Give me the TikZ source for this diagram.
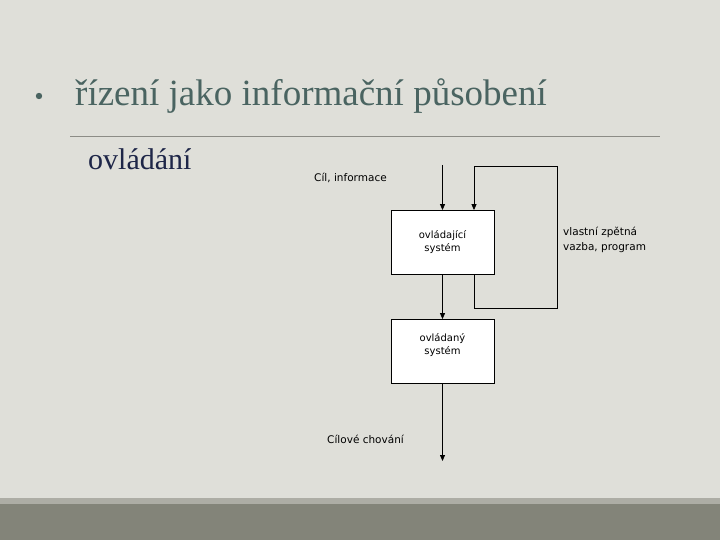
\documentclass[tikz,border=0pt]{standalone}
\usepackage{fontspec}
\usepackage{xcolor}
\usepackage{tikz}
\usetikzlibrary{arrows.meta,positioning}
\setmainfont{Liberation Serif}
\newfontfamily\diagfont{DejaVu Sans}
\definecolor{slidebg}{HTML}{DFDFD9}
\definecolor{bandgray}{HTML}{838479}
\definecolor{stripegray}{HTML}{ADADA5}
\definecolor{titlegreen}{HTML}{4A6461}
\definecolor{rulegray}{HTML}{8C8C86}
\definecolor{subnavy}{HTML}{1E2648}
\tikzset{
  sysbox/.style={draw,fill=white,line width=0.8pt,minimum width=103pt,minimum height=64pt,
    align=center,font=\diagfont\fontsize{10}{13}\selectfont,inner sep=0pt},
  flow/.style={-{Triangle[width=5pt,length=6pt]},line width=0.8pt},
  smalllabel/.style={font=\diagfont\fontsize{10.5}{14.5}\selectfont,align=left,inner sep=0pt}
}
\begin{document}
\begin{tikzpicture}[x=1pt,y=-1pt]
  \useasboundingbox (0,0) rectangle (720,540);
  \fill[slidebg] (0,0) rectangle (720,540);
  \fill[stripegray] (0,498) rectangle (720,504);
  \fill[bandgray] (0,504) rectangle (720,540);
  % heading
  \fill[titlegreen] (39,96) circle (3.2pt);
  \node[anchor=base west,inner sep=0pt,text=titlegreen,font=\fontsize{37}{40}\selectfont] (title) at (75,106) {řízení jako informační působení};
  \draw[rulegray,line width=1pt] (70,137) -- (660,137);
  \node[anchor=base west,inner sep=0pt,text=subnavy,font=\fontsize{30}{34}\selectfont] (sub) at (88,170) {ovládání};
  % blocks
  \node[sysbox] (ctrl) at (442.5,242.5) {ovládající\\systém};
  \node[sysbox] (plant) at (442.5,351.5) {ovládaný\\systém\\[2pt]};
  \coordinate (in) at (442.5,165);
  \coordinate (out) at (442.5,461);
  \coordinate (fbL) at (474,166);
  \coordinate (fbBR) at (557,308);
  \draw[flow] (in) -- (in |- ctrl.north);
  \draw[flow] (ctrl) -- (plant);
  \draw[flow] (plant) -- (out);
  \draw[flow] (ctrl.south -| fbL) |- (fbBR) |- (fbL) -- (ctrl.north -| fbL);
  % labels
  \node[smalllabel,anchor=base west] (goal) at (314,182) {Cíl, informace};
  \node[smalllabel,anchor=west] (fbtext) at (563,240) {vlastní zpětná\\vazba, program};
  \node[smalllabel,anchor=base west] (behav) at (327,443) {Cílové chování};
\end{tikzpicture}
\end{document}
